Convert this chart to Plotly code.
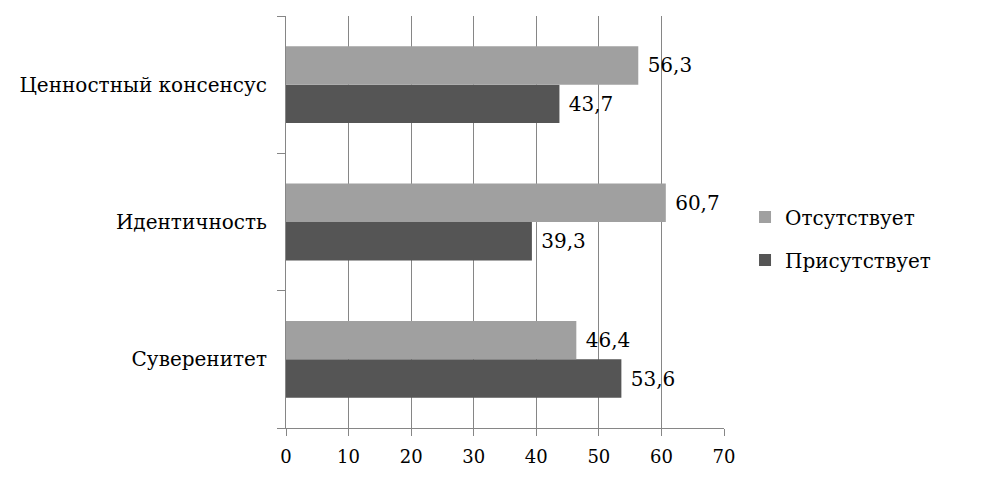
import plotly.graph_objects as go

categories = ["Суверенитет", "Идентичность", "Ценностный консенсус"]
present = [53.6, 39.3, 43.7]
absent = [46.4, 60.7, 56.3]
x_ticks = [0, 10, 20, 30, 40, 50, 60, 70]

SERIF = "DejaVu Serif"


def fmt(values):
    # leading non-breaking space gives the gap between bar end and label
    return ["\u00a0" + f"{v:.1f}".replace(".", ",") for v in values]


fig = go.Figure()
fig.add_trace(go.Bar(
    y=categories, x=present, orientation="h", name="Присутствует", legendgroup="p", legendrank=2,
    marker=dict(color="#555555", line=dict(width=0)),
    text=fmt(present), textposition="outside", cliponaxis=False,
    textfont=dict(family=SERIF, size=20, color="black"),
))
fig.add_trace(go.Bar(
    y=categories, x=absent, orientation="h", name="Отсутствует", legendgroup="a", legendrank=1,
    marker=dict(color="#A0A0A0", line=dict(width=0)),
    text=fmt(absent), textposition="outside", cliponaxis=False,
    textfont=dict(family=SERIF, size=20, color="black"),
))

fig.update_layout(
    width=984, height=483,
    margin=dict(l=278, r=268, t=8, b=63),
    barmode="group", bargap=0.44, bargroupgap=0,
    plot_bgcolor="white", paper_bgcolor="white",
    font=dict(family=SERIF, size=20, color="black"),
    legend=dict(
        x=1.048, y=0.46, xanchor="left", yanchor="middle",
        traceorder="grouped", font=dict(family=SERIF, size=20),
        itemwidth=30, tracegroupgap=14,
    ),
    uniformtext=dict(minsize=20, mode="show"),
)

fig.update_xaxes(
    range=[0, 70], tickvals=x_ticks, showgrid=True, gridcolor="#868686", gridwidth=1,
    showline=True, linecolor="#868686", linewidth=1,
    ticks="outside", ticklen=7, tickcolor="#868686", zeroline=False,
    ticklabelstandoff=5, tickfont=dict(size=18),
)
fig.update_yaxes(
    showgrid=False, showline=True, linecolor="#868686", linewidth=1,
    ticks="outside", ticklen=8, tickcolor="#868686", tickson="boundaries",
    ticklabelstandoff=14,
)

fig.write_html("out.html")
